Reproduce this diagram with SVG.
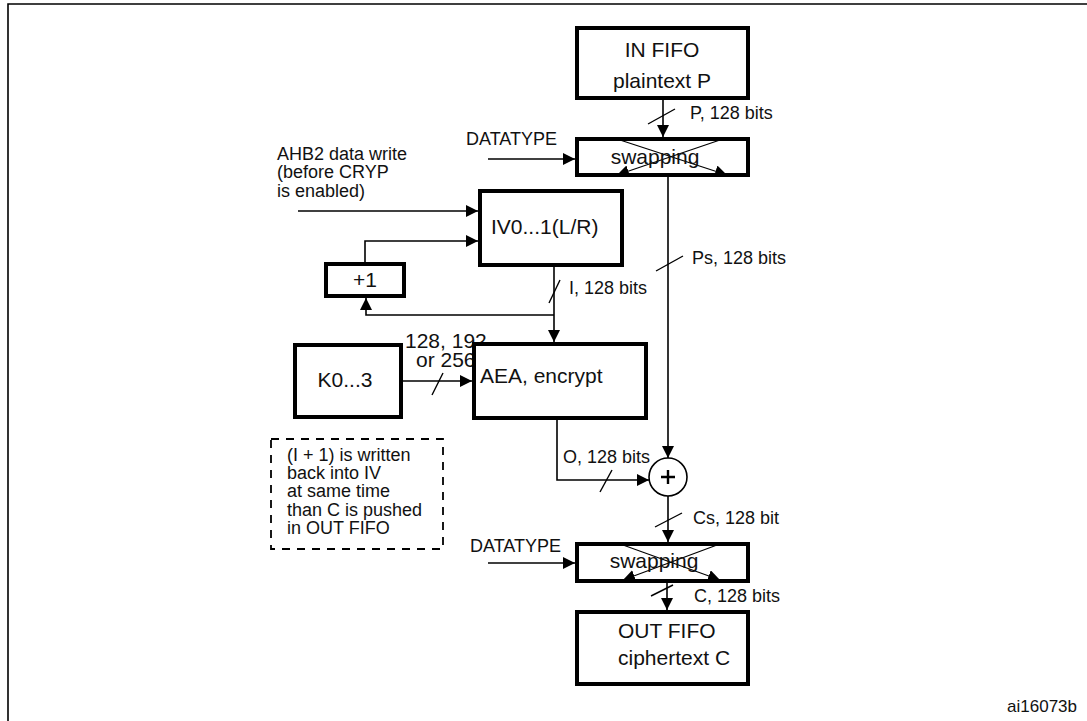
<svg xmlns="http://www.w3.org/2000/svg" width="1087" height="721" viewBox="0 0 1087 721">
<defs>
<marker id="ah" markerUnits="userSpaceOnUse" markerWidth="13" markerHeight="13" refX="12" refY="6" orient="auto">
<path d="M0,0 L12,6 L0,12 z" fill="#000"/>
</marker>
<style>
text{font-family:"Liberation Sans",Arial,sans-serif;fill:#111}
.bt{font-size:21px}
.lb{font-size:18px}
.box{fill:#fff;stroke:#000;stroke-width:4}
.ln{fill:none;stroke:#000;stroke-width:1.6}
.ar{fill:none;stroke:#000;stroke-width:1.6;marker-end:url(#ah)}
.sl{stroke:#000;stroke-width:1.4}
.xl{stroke:#000;stroke-width:1.2;marker-end:url(#ah)}
</style>
</defs>
<rect width="1087" height="721" fill="#fff"/>
<path d="M8,721 V4 H1087" fill="none" stroke="#000" stroke-width="1.6"/>

<g id="connectors">
<path class="ar" d="M663,100 V137"/>
<path class="ar" d="M488,159 H575"/>
<path class="ar" d="M668,177 V458"/>
<path class="ar" d="M298,211 H478"/>
<path class="ar" d="M365,262 V241 H478"/>
<path class="ar" d="M554,267 V342"/>
<path class="ar" d="M554,315 H366 V298"/>
<path class="ar" d="M403,381 H472"/>
<path class="ar" d="M557,420 V480 H649"/>
<path class="ar" d="M668,496 V542"/>
<path class="ar" d="M488,563 H575"/>
<path class="ar" d="M667,583 V610"/>
<line class="sl" x1="648" y1="124" x2="675" y2="109"/>
<line class="sl" x1="656" y1="271" x2="683" y2="256"/>
<line class="sl" x1="549" y1="303" x2="560" y2="280"/>
<line class="sl" x1="432" y1="395" x2="443" y2="373"/>
<line class="sl" x1="600" y1="492" x2="612" y2="470"/>
<line class="sl" x1="655" y1="527" x2="682" y2="513"/>
<line class="sl" x1="651" y1="596" x2="673" y2="585"/>
<text class="lb" x="690" y="119">P, 128 bits</text>
<text class="lb" x="466" y="145">DATATYPE</text>
<text class="lb" x="692" y="264">Ps, 128 bits</text>
<text class="lb" x="569" y="294">I, 128 bits</text>
<text class="bt" x="405" y="348">128, 192</text>
<text class="bt" x="416" y="367">or 256</text>
<text class="lb" x="563" y="463">O, 128 bits</text>
<text class="lb" x="693" y="524">Cs, 128 bit</text>
<text class="lb" x="470" y="552">DATATYPE</text>
<text class="lb" x="694" y="602">C, 128 bits</text>
<text class="lb" x="277" y="160">AHB2 data write</text>
<text class="lb" x="277" y="178">(before CRYP</text>
<text class="lb" x="277" y="197">is enabled)</text>
</g>

<g id="in-fifo">
<rect class="box" x="577" y="28" width="171" height="70"/>
<text class="bt" x="662" y="57" text-anchor="middle">IN FIFO</text>
<text class="bt" x="662" y="88" text-anchor="middle">plaintext P</text>
</g>

<g id="swap1">
<rect class="box" x="577" y="139" width="171" height="36"/>
<line class="xl" x1="620" y1="140" x2="727" y2="175"/>
<line class="xl" x1="720" y1="140" x2="617" y2="175"/>
<text class="bt" x="655" y="164" text-anchor="middle">swapping</text>
</g>

<g id="iv">
<rect class="box" x="480" y="191" width="142" height="74"/>
<text class="bt" x="491" y="234">IV0...1(L/R)</text>
</g>

<g id="plus1">
<rect class="box" x="326" y="264" width="78" height="32"/>
<text class="bt" x="365" y="287" text-anchor="middle">+1</text>
</g>

<g id="key">
<rect class="box" x="295" y="345" width="106" height="72"/>
<text class="bt" x="345" y="387" text-anchor="middle">K0...3</text>
</g>

<g id="aea">
<rect class="box" x="474" y="344" width="172" height="74"/>
<text class="bt" x="480" y="383">AEA, encrypt</text>
</g>

<g id="note">
<rect x="271" y="439" width="172" height="110" fill="none" stroke="#000" stroke-width="1.8" stroke-dasharray="8,7"/>
<text class="lb" x="287" y="461">(I + 1) is written</text>
<text class="lb" x="287" y="479">back into IV</text>
<text class="lb" x="287" y="497">at same time</text>
<text class="lb" x="287" y="516">than C is pushed</text>
<text class="lb" x="287" y="534">in OUT FIFO</text>
</g>

<g id="xor">
<circle cx="668" cy="477" r="19" fill="#fff" stroke="#000" stroke-width="1.6"/>
<path d="M661,477 H675 M668,470 V484" stroke="#000" stroke-width="2.4"/>
</g>

<g id="swap2">
<rect class="box" x="577" y="544" width="171" height="37"/>
<line class="xl" x1="623" y1="545" x2="720" y2="580"/>
<line class="xl" x1="717" y1="545" x2="623" y2="580"/>
<text class="bt" x="654" y="568" text-anchor="middle">swapping</text>
</g>

<g id="out-fifo">
<rect class="box" x="577" y="612" width="171" height="72"/>
<text class="bt" x="618" y="638">OUT FIFO</text>
<text class="bt" x="618" y="665">ciphertext C</text>
</g>

<text x="1077" y="712" text-anchor="end" style="font-size:17px">ai16073b</text>
</svg>
